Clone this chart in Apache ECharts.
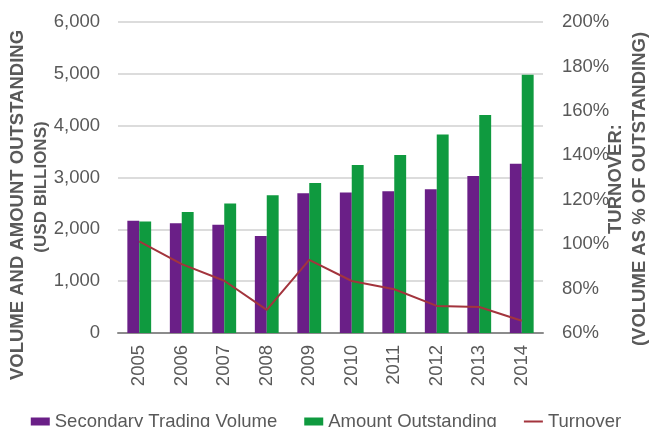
<!DOCTYPE html>
<html>
<head>
    <meta charset="UTF-8">
    <title>Secondary Trading Volume and Turnover</title>
    <script src="https://cdn.jsdelivr.net/npm/echarts@6/dist/echarts.min.js"></script>
    <style>
        html, body { margin: 0; padding: 0; background: #fff; }
        #main { width: 652px; height: 427px; }
    </style>
</head>
<body>
<div id="main"></div>
<script type="text/javascript">
    // data
    var years = ['2005', '2006', '2007', '2008', '2009', '2010', '2011', '2012', '2013', '2014'];
    var tradingVolume = [2167, 2117, 2090, 1873, 2697, 2710, 2735, 2774, 3031, 3263];
    var amountOutstanding = [2150, 2336, 2496, 2658, 2896, 3243, 3436, 3828, 4208, 4981];
    var turnover = [101.2, 91.0, 83.5, 70.4, 92.9, 83.4, 79.7, 72.2, 71.7, 65.5];

    var grey = '#595959';
    var font = '"Liberation Sans", Arial, sans-serif';
    // thin horizontal stroke for the line legend icon (empty sub-paths keep the box 8 high)
    var lineIcon = 'path://M0,0L19,0L19,0.01Z M0,3L19,3L19,5L0,5Z M0,8L19,8L19,8.01Z';

    var myChart = echarts.init(document.getElementById('main'));

    var option = {
        animation: false,
        textStyle: {fontFamily: font},
        color: ['#6a1f87', '#0f9a3f', '#a3343d'],
        grid: {
            left: 118,
            right: 109,
            top: 22,
            bottom: 94
        },
        legend: {
            left: 'center',
            top: 407,
            itemGap: 27,
            itemWidth: 19,
            itemHeight: 8,
            textStyle: {color: grey, fontSize: 18.5, fontFamily: font},
            data: [
                {name: 'Secondary Trading Volume', icon: 'rect'},
                {name: 'Amount Outstanding', icon: 'rect'},
                {name: 'Turnover', icon: lineIcon}
            ]
        },
        xAxis: [
            {
                type: 'category',
                data: years,
                axisTick: {show: false},
                axisLine: {lineStyle: {color: '#8c8c8c', width: 2}},
                axisLabel: {
                    rotate: 90,
                    margin: 12,
                    color: grey,
                    fontSize: 18.5,
                    fontFamily: font
                }
            }
        ],
        yAxis: [
            {
                type: 'value',
                min: 0,
                max: 6000,
                interval: 1000,
                axisLine: {show: false},
                axisTick: {show: false},
                splitLine: {lineStyle: {color: '#d0d0d0', width: 1.5}},
                axisLabel: {
                    margin: 18,
                    color: grey,
                    fontSize: 18.5,
                    fontFamily: font,
                    formatter: function (v) {
                        return v.toLocaleString('en-US');
                    }
                }
            },
            {
                type: 'value',
                position: 'right',
                min: 60,
                max: 200,
                interval: 20,
                axisLine: {show: false},
                axisTick: {show: false},
                splitLine: {show: false},
                axisLabel: {
                    margin: 19,
                    color: grey,
                    fontSize: 18.5,
                    fontFamily: font,
                    formatter: '{value}%'
                }
            }
        ],
        graphic: [
            {
                type: 'text', x: 18, y: 205, rotation: Math.PI / 2,
                style: {text: 'VOLUME AND AMOUNT OUTSTANDING', fill: grey, font: 'bold 18.5px ' + font,
                    align: 'center', verticalAlign: 'middle'}
            },
            {
                type: 'text', x: 41, y: 187, rotation: Math.PI / 2,
                style: {text: '(USD BILLIONS)', fill: grey, font: 'bold 17px ' + font,
                    align: 'center', verticalAlign: 'middle'}
            },
            {
                type: 'text', x: 616, y: 179, rotation: Math.PI / 2,
                style: {text: 'TURNOVER:', fill: grey, font: 'bold 18.5px ' + font,
                    align: 'center', verticalAlign: 'middle'}
            },
            {
                type: 'text', x: 640, y: 189, rotation: Math.PI / 2,
                style: {text: '(VOLUME AS % OF OUTSTANDING)', fill: grey, font: 'bold 18.5px ' + font,
                    align: 'center', verticalAlign: 'middle'}
            }
        ],
        series: [
            {
                name: 'Secondary Trading Volume',
                type: 'bar',
                barGap: '0%',
                barCategoryGap: '44%',
                data: tradingVolume
            },
            {
                name: 'Amount Outstanding',
                type: 'bar',
                data: amountOutstanding
            },
            {
                name: 'Turnover',
                type: 'line',
                yAxisIndex: 1,
                symbol: 'none',
                lineStyle: {width: 2},
                data: turnover
            }
        ]
    };

    myChart.setOption(option);
</script>
</body>
</html>
